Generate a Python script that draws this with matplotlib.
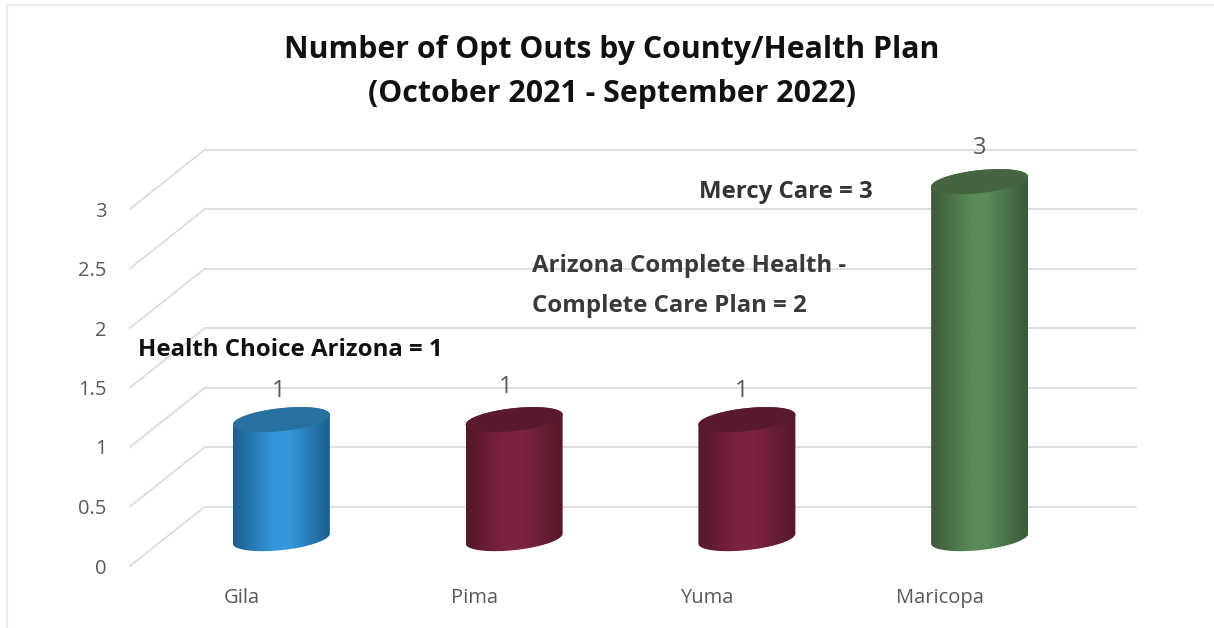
import numpy as np
import matplotlib
matplotlib.use('Agg')
import matplotlib.pyplot as plt
from matplotlib.colors import LinearSegmentedColormap
from matplotlib.patches import Polygon

plt.rcParams['font.family'] = ['Open Sans', 'DejaVu Sans']

W, H = 1214, 628

counties = ['Gila', 'Pima', 'Yuma', 'Maricopa']
values = [1, 1, 1, 3]
y_ticks = [0, 0.5, 1, 1.5, 2, 2.5, 3]
y_labels = ['0', '0.5', '1', '1.5', '2', '2.5', '3']
edge_cols = ['#1c5f8e', '#561829', '#56182b', '#3c5a3a']
mid_cols = ['#3497dc', '#7d2340', '#7d2340', '#5a8a58']
top_cols = ['#27709f', '#5a1a2e', '#5a1a2e', '#45643f']
plans = [('Health Choice Arizona = 1', 138, 350, '#111111'),
         ('Arizona Complete Health -', 532, 266, '#3a3a3a'),
         ('Complete Care Plan = 2', 532, 306, '#3a3a3a'),
         ('Mercy Care = 3', 699, 192, '#333333')]
# where the value labels sit, they are not centred on the bars
val_pos = [(279, 391), (506, 387), (742, 391), (980, 148)]

fig = plt.figure(figsize=(W / 100, H / 100), dpi=100, facecolor='white')

# faint frame of the original screenshot, left and top only
fig.add_artist(plt.Line2D([7 / W, 7 / W], [0, 1 - 5 / H], color='#eeeeee', lw=1.6))
fig.add_artist(plt.Line2D([7 / W, 1], [1 - 5 / H, 1 - 5 / H], color='#eeeeee', lw=1.6))

# front floor edge runs 130..1061 px, y=0 at 566 px; one unit is 119 px
# the axes goes above 3 so the tall cylinder is not cut off
y_top = 3.7
ax = fig.add_axes([130 / W, 1 - 566 / H, 931 / W, y_top * 119 / H])

# depth of the 3d box in data units
dx, dy = 75 / 232.75, 0.5
grid_col = '#dcdcdc'
for t in y_ticks:
    ax.plot([-0.5, -0.5 + dx], [t, t + dy], color=grid_col, lw=1.3, clip_on=False, zorder=1)
    ax.plot([-0.5 + dx, 3.5 + dx], [t + dy, t + dy], color=grid_col, lw=1.3, clip_on=False, zorder=1)

# cylinders
half_w = 48.5 / 232.75
skew = 5 / 119
minor = 11.5 / 119
base = dy / 2 - 0.02
tt = np.linspace(0, 2 * np.pi, 121)
for i, v in enumerate(values):
    cx = i + dx / 2 - 2.5 / 232.75
    ex = cx + half_w * np.cos(tt)
    top_y = base + v + skew * np.cos(tt) + minor * np.sin(tt)
    low = np.linspace(np.pi, 2 * np.pi, 61)
    up = np.linspace(0, np.pi, 61)
    body_x = np.r_[cx + half_w * np.cos(low), cx + half_w * np.cos(up)]
    body_y = np.r_[base + skew * np.cos(low) + minor * np.sin(low),
                   base + v + skew * np.cos(up) + minor * np.sin(up)]
    cmap = LinearSegmentedColormap.from_list('c', [(0, edge_cols[i]), (0.42, mid_cols[i]),
                                                   (0.58, mid_cols[i]), (1, edge_cols[i])])
    grad = np.linspace(0, 1, 200)[None, :]
    im = ax.imshow(grad, cmap=cmap, aspect='auto', zorder=3, interpolation='bilinear',
                   extent=[cx - half_w, cx + half_w, base - 0.2, base + v + 0.2])
    clip = Polygon(np.c_[body_x, body_y], transform=ax.transData, fc='none', ec='none')
    ax.add_patch(clip)
    im.set_clip_path(clip)
    ax.fill(ex, top_y, color=top_cols[i], lw=0, zorder=4)

ax.set_xlim(-0.5, 3.5)
ax.set_ylim(0, y_top)
ax.set_xticks(np.arange(len(counties)) - 0.02)
ax.set_xticklabels(counties, fontsize=14.5, color='#595959')
ax.set_yticks(y_ticks)
ax.set_yticklabels(y_labels, fontsize=14.5, color='#595959')
ax.tick_params(axis='both', length=0)
ax.tick_params(axis='x', pad=16)
ax.tick_params(axis='y', pad=17)
for s in ax.spines.values():
    s.set_visible(False)
ax.patch.set_alpha(0)

# title
fig.text(612 / W, 1 - 50 / H, 'Number of Opt Outs by County/Health Plan', ha='center', va='center',
         fontsize=21.8, fontweight='bold', color='#111111')
fig.text(612 / W, 1 - 94 / H, '(October 2021 - September 2022)', ha='center', va='center',
         fontsize=21.8, fontweight='bold', color='#111111')

for (txt, px, py, col) in plans:
    fig.text(px / W, 1 - py / H, txt, ha='left', va='center', fontsize=17.3, fontweight='bold', color=col)
for v, (px, py) in zip(values, val_pos):
    fig.text(px / W, 1 - py / H, str(v), ha='center', va='center', fontsize=17, color='#595959')

fig.savefig('out.png', dpi=100)
